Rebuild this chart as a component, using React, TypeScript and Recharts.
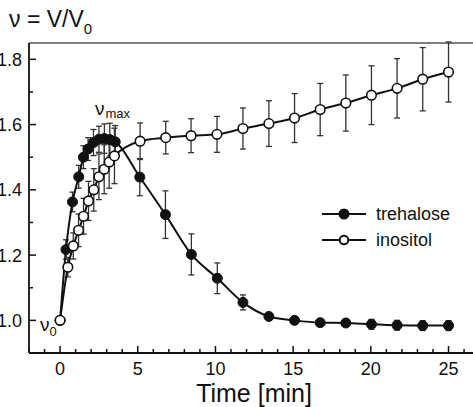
import React from 'react';
import { LineChart, Line, XAxis, YAxis, ErrorBar, ReferenceLine, Legend } from 'recharts';

// time [min], relative volume nu = V/V0 and its error
const trehaloseTime = [0, 0.38, 0.8, 1.2, 1.5, 1.8, 2.15, 2.5, 2.85, 3.2, 3.55, 5.13, 6.78, 8.45, 10.12, 11.77, 13.44, 15.09, 16.74, 18.39, 20.04, 21.69, 23.34, 25.0];
const trehaloseNu = [1.0, 1.217, 1.363, 1.44, 1.5, 1.525, 1.545, 1.555, 1.557, 1.554, 1.547, 1.439, 1.324, 1.202, 1.129, 1.055, 1.012, 1.0, 0.993, 0.992, 0.988, 0.985, 0.984, 0.984];
const trehaloseErr = [0, 0.03, 0.03, 0.035, 0.035, 0.035, 0.04, 0.04, 0.045, 0.05, 0.05, 0.057, 0.073, 0.063, 0.047, 0.023, 0.008, 0.008, 0.008, 0.01, 0.015, 0.015, 0.015, 0.015];

const inositolTime = [0, 0.5, 0.85, 1.19, 1.51, 1.83, 2.17, 2.5, 2.84, 3.16, 3.5, 5.15, 6.8, 8.43, 10.1, 11.77, 13.44, 15.09, 16.74, 18.39, 20.04, 21.69, 23.34, 25.0];
const inositolNu = [1.0, 1.163, 1.228, 1.276, 1.319, 1.366, 1.4, 1.44, 1.463, 1.485, 1.504, 1.549, 1.56, 1.566, 1.57, 1.588, 1.603, 1.62, 1.646, 1.666, 1.69, 1.711, 1.739, 1.761];
const inositolErr = [0, 0.03, 0.04, 0.05, 0.055, 0.06, 0.065, 0.07, 0.075, 0.08, 0.085, 0.056, 0.05, 0.052, 0.055, 0.063, 0.07, 0.075, 0.08, 0.086, 0.09, 0.091, 0.097, 0.092];

const xTicks = [-2, -1, 0, 1, 2, 3, 4, 5, 6, 7, 8, 9, 10, 11, 12, 13, 14, 15, 16, 17, 18, 19, 20, 21, 22, 23, 24, 25, 26];
const yTicks = [1.0, 1.1, 1.2, 1.3, 1.4, 1.5, 1.6, 1.7, 1.8];

const seriesNames = ['trehalose', 'inositol'];

const FONT = '"Liberation Sans", Arial, sans-serif';
const INK = '#111';

const toRows = (t: number[], v: number[], e: number[]) => t.map((x, i) => ({ t: x, nu: v[i], err: e[i] }));
const trehaloseData = toRows(trehaloseTime, trehaloseNu, trehaloseErr);
const inositolData = toRows(inositolTime, inositolNu, inositolErr);

const XTick = (props: any) => {
    const { x, y, payload } = props;
    const v = payload.value;
    const major = v % 5 === 0;
    return (
        <g>
            <line x1={x} x2={x} y1={y} y2={y - (major ? 7 : 4)} stroke={INK} strokeWidth={1.5} />
            {major && (
                <text x={x} y={y + 22} textAnchor="middle" fontSize={18} fontFamily={FONT} fill={INK}>{v}</text>
            )}
        </g>
    );
};

const YTick = (props: any) => {
    const { x, y, payload } = props;
    const v = payload.value;
    const major = Math.round(v * 10) % 2 === 0;
    return (
        <g>
            <line x1={x} x2={x + (major ? 7 : 4)} y1={y} y2={y} stroke={INK} strokeWidth={1.5} />
            {major && (
                <text x={x - 7} y={y + 6.5} textAnchor="end" fontSize={18} fontFamily={FONT} fill={INK}>{v.toFixed(1)}</text>
            )}
        </g>
    );
};

const LegendBox = () => (
    <div style={{ fontFamily: FONT }}>
        {seriesNames.map((name, i) => (
            <div key={name} style={{ display: 'flex', alignItems: 'center', height: 26 }}>
                <svg width={48} height={26}>
                    <line x1={4} x2={48} y1={13} y2={13} stroke={INK} strokeWidth={2.2} />
                    {i === 0
                        ? <circle cx={26} cy={13} r={5.5} fill={INK} />
                        : <circle cx={26} cy={13} r={4.3} fill="#fff" stroke={INK} strokeWidth={2} />}
                </svg>
                <span style={{ marginLeft: 10, fontSize: 18, color: INK, lineHeight: '26px' }}>{name}</span>
            </div>
        ))}
    </div>
);

const App: React.FC = () => {
    return (
        <div style={{ position: 'fixed', left: 0, top: 0, width: 473, height: 407, overflow: 'hidden', background: '#fff' }}>
            <LineChart width={490} height={407} margin={{ top: 43, right: 10.4, bottom: 0, left: 0 }}>
                <XAxis
                    type="number"
                    dataKey="t"
                    domain={[-2, 27]}
                    ticks={xTicks}
                    interval={0}
                    height={54}
                    tickSize={0}
                    tickMargin={0}
                    tickLine={false}
                    tick={<XTick />}
                    axisLine={{ stroke: INK, strokeWidth: 1.8 }}
                    allowDataOverflow
                />
                <YAxis
                    type="number"
                    domain={[0.9, 1.85]}
                    ticks={yTicks}
                    interval={0}
                    width={29}
                    tickSize={0}
                    tickMargin={0}
                    tickLine={false}
                    tick={<YTick />}
                    axisLine={{ stroke: INK, strokeWidth: 1.8 }}
                    allowDataOverflow
                />
                <ReferenceLine y={1.85} stroke="#555" strokeWidth={1.6} />
                <Legend
                    layout="vertical"
                    align="center"
                    verticalAlign="middle"
                    content={<LegendBox />}
                    wrapperStyle={{ left: 318, top: 201, width: 150 }}
                />
                <Line
                    data={trehaloseData}
                    dataKey="nu"
                    name="trehalose"
                    type="monotone"
                    stroke={INK}
                    strokeWidth={2}
                    dot={{ r: 5, fill: INK, stroke: INK, strokeWidth: 1 }}
                    isAnimationActive={false}
                >
                    <ErrorBar dataKey="err" direction="y" width={3} stroke="#333" strokeWidth={1.3} />
                </Line>
                <Line
                    data={inositolData}
                    dataKey="nu"
                    name="inositol"
                    type="monotone"
                    stroke={INK}
                    strokeWidth={2}
                    dot={{ r: 4.8, fill: '#fff', stroke: INK, strokeWidth: 1.6 }}
                    isAnimationActive={false}
                >
                    <ErrorBar dataKey="err" direction="y" width={3} stroke="#333" strokeWidth={1.3} />
                </Line>
            </LineChart>
            <svg width={473} height={407} style={{ position: 'absolute', left: 0, top: 0, pointerEvents: 'none' }}>
                <text x={9} y={27} fontSize={23} fontFamily={FONT} fill={INK}>
                    ν = V/V<tspan fontSize={15} dy={7}>0</tspan>
                </text>
                <text x={95} y={115} fontSize={19} fontFamily={FONT} fill={INK}>
                    ν<tspan fontSize={13} dx={1} dy={3}>max</tspan>
                </text>
                <text x={40} y={331} fontSize={19} fontFamily={FONT} fill={INK}>
                    ν<tspan fontSize={13} dy={5}>0</tspan>
                </text>
                <text x={254} y={402} textAnchor="middle" fontSize={25} fontFamily={FONT} fill={INK}>Time [min]</text>
            </svg>
        </div>
    );
};

export default App;
